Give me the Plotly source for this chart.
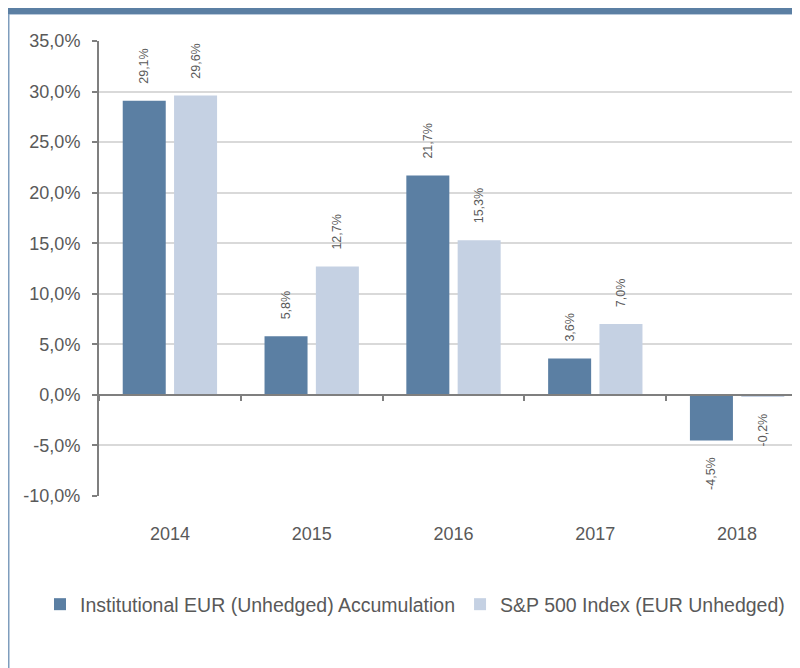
import plotly.graph_objects as go

years = ["2014", "2015", "2016", "2017", "2018"]
fund_name = "Institutional EUR (Unhedged) Accumulation"
index_name = "S&P 500 Index (EUR Unhedged)"
fund_values = [29.1, 5.8, 21.7, 3.6, -4.5]
index_values = [29.6, 12.7, 15.3, 7.0, -0.2]
y_ticks = [-10, -5, 0, 5, 10, 15, 20, 25, 30, 35]

OFF = 8  # page margin of the html body
W, H = 800, 668
ML, MR, MT, MB = 99 - OFF, 0, 41 - OFF, H - (496 - OFF)
PW, PH = W - ML - MR, H - MT - MB

DARK = "#5B7FA3"
LIGHT = "#C5D1E3"
TXT = "#595959"
AXIS = "#7F7F7F"
FONT = "Liberation Sans, Arial, sans-serif"
PAD = "\u00a0" * 4


def fmt(v):
    return f"{v:.1f}".replace(".", ",") + "%"


def lab(v):
    return PAD + fmt(v) if v >= 0 else fmt(v) + PAD


def px_x(p):  # screen x -> paper x
    return (p - OFF - ML) / PW


def px_y(p):  # screen y -> paper y
    return (H - MB - (p - OFF)) / PH


fig = go.Figure()
fig.add_trace(go.Bar(
    x=years, y=fund_values, name=fund_name, marker=dict(color=DARK, line=dict(width=0)),
    text=[lab(v) for v in fund_values], textposition="outside", textangle=-90,
    textfont=dict(size=12.5, color=TXT, family=FONT), cliponaxis=False, constraintext="none",
))
fig.add_trace(go.Bar(
    x=years, y=index_values, name=index_name, marker=dict(color=LIGHT, line=dict(width=0)),
    text=[lab(v) for v in index_values], textposition="outside", textangle=-90,
    textfont=dict(size=12.5, color=TXT, family=FONT), cliponaxis=False, constraintext="none",
))
# invisible helper trace so the zero-line category axis (with boundary ticks) is drawn
fig.add_trace(go.Scatter(x=years, y=[0] * len(years), xaxis="x2", mode="markers",
                         marker=dict(opacity=0), showlegend=False, hoverinfo="skip"))

xr = [-0.5, 4.5]
zero_pos = 10 / 45
fig.update_layout(
    width=W, height=H,
    margin=dict(l=ML, r=MR, t=MT, b=MB),
    paper_bgcolor="white", plot_bgcolor="white",
    separators=", ",
    barmode="group", bargap=0.276, bargroupgap=0.162,
    font=dict(family=FONT, color=TXT),
    xaxis=dict(type="category", range=xr, showgrid=False, showline=False, ticks="",
               tickfont=dict(size=18, color=TXT), ticklabelstandoff=25),
    xaxis2=dict(type="category", range=xr, overlaying="x", anchor="free",
                position=zero_pos, side="bottom", showgrid=False,
                showline=True, linecolor=AXIS, linewidth=2, ticks="outside",
                tickson="boundaries", ticklen=5, tickcolor=AXIS, tickwidth=1.5,
                showticklabels=False, zeroline=False),
    yaxis=dict(range=[-10, 35], tickvals=y_ticks, ticktext=[fmt(v) for v in y_ticks],
               showgrid=True, gridcolor="#D9D9D9", gridwidth=2, zeroline=False,
               showline=True, linecolor=AXIS, linewidth=2, ticks="outside",
               ticklen=5, tickcolor=AXIS, tickwidth=1.5,
               tickfont=dict(size=18, color=TXT), ticklabelstandoff=8),
    legend=dict(orientation="h", x=px_x(40), y=px_y(585), xanchor="left", yanchor="top",
                font=dict(size=19.5, color=TXT), itemwidth=30, traceorder="normal",
                bgcolor="rgba(0,0,0,0)"),
    showlegend=True,
    shapes=[
        dict(type="rect", xref="paper", yref="paper", x0=px_x(5), x1=px_x(W + OFF), y0=px_y(14), y1=px_y(6),
             fillcolor=DARK, line=dict(width=0), layer="above"),
        dict(type="rect", xref="paper", yref="paper", x0=px_x(5), x1=px_x(W + OFF), y0=px_y(15), y1=px_y(14),
             fillcolor="#B8C8DA", line=dict(width=0), layer="above"),
        dict(type="rect", xref="paper", yref="paper", x0=px_x(OFF), x1=px_x(OFF + 1.5), y0=px_y(H + OFF), y1=px_y(14),
             fillcolor="#7F9DBD", line=dict(width=0), layer="above"),
    ],
)

fig.write_html("out.html")
